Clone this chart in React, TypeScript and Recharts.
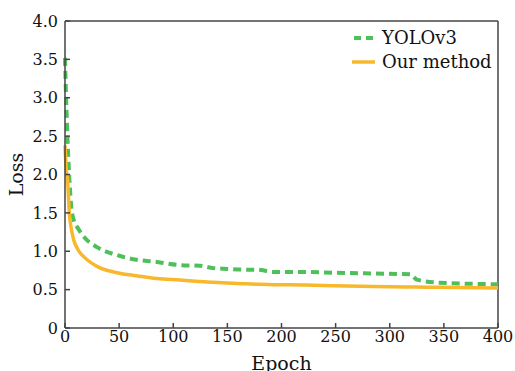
import React from 'react'
import { LineChart, Line, XAxis, YAxis, ReferenceLine } from 'recharts'

// epoch samples and loss values
const epochs = [0, 1, 2.5, 4, 6, 8, 12, 18, 30, 48, 66, 85, 106, 125, 137, 150, 168, 178, 192, 223, 248, 285, 319, 325, 346, 400]
const yolov3 = [3.52, 3.0, 2.4, 1.95, 1.55, 1.41, 1.3, 1.18, 1.05, 0.95, 0.89, 0.86, 0.82, 0.81, 0.78, 0.77, 0.76, 0.76, 0.73, 0.73, 0.72, 0.71, 0.7, 0.63, 0.59, 0.57]
const ourMethod = [2.38, 2.1, 1.9, 1.5, 1.28, 1.15, 1.02, 0.92, 0.8, 0.72, 0.68, 0.645, 0.625, 0.605, 0.595, 0.585, 0.575, 0.57, 0.565, 0.56, 0.55, 0.54, 0.535, 0.533, 0.53, 0.52]

const xTicks = [0, 50, 100, 150, 200, 250, 300, 350, 400]
const yTicks = [0, 0.5, 1, 1.5, 2, 2.5, 3, 3.5, 4]

const chartData = epochs.map((e, i) => ({ epoch: e, yolo: yolov3[i], ours: ourMethod[i] }))

const GREEN = '#4fbf5a'
const ORANGE = '#f7b82c'
const AXIS = '#444'
const FONT = '"DejaVu Serif", serif'

const LegendBox = () => (
	<div style={{ position: 'absolute', left: 352, top: 26, fontFamily: FONT, fontSize: 18, color: '#111', lineHeight: '24px' }}>
		<div style={{ display: 'flex', alignItems: 'center' }}>
			<svg width={30} height={10}>
				<line x1={2} y1={5} x2={22} y2={5} stroke={GREEN} strokeWidth={4} strokeDasharray='7 5' />
			</svg>
			<span>YOLOv3</span>
		</div>
		<div style={{ display: 'flex', alignItems: 'center' }}>
			<svg width={30} height={10}>
				<line x1={0} y1={5} x2={23} y2={5} stroke={ORANGE} strokeWidth={3.5} />
			</svg>
			<span>Our method</span>
		</div>
	</div>
)

const App = () => {
	const tickStyle = { fontSize: 16, fill: '#111', fontFamily: FONT }
	return (
		<div style={{ position: 'absolute', left: 0, top: 0, width: 515, height: 371, background: '#fff' }}>
			<LineChart width={515} height={371} data={chartData} margin={{ top: 21, right: 17, bottom: 0, left: 0 }}>
				<XAxis
					type='number'
					dataKey='epoch'
					domain={[0, 400]}
					ticks={xTicks}
					interval={0}
					height={43}
					stroke={AXIS}
					strokeWidth={1.5}
					tickSize={-5}
					tickMargin={8}
					tick={tickStyle}
					label={{ value: 'Epoch', position: 'insideBottom', offset: 1, style: { fontSize: 19, fill: '#111', fontFamily: FONT } }}
				/>
				<YAxis
					type='number'
					domain={[0, 4]}
					ticks={yTicks}
					interval={0}
					width={65}
					stroke={AXIS}
					strokeWidth={1.5}
					tickSize={-5}
					tickMargin={12}
					tick={tickStyle}
					tickFormatter={(v: number) => (v === 0 ? '0' : v.toFixed(1))}
					label={{ value: 'Loss', angle: -90, position: 'insideLeft', offset: 16, style: { fontSize: 19, fill: '#111', fontFamily: FONT, textAnchor: 'middle' } }}
				/>
				<ReferenceLine y={4} stroke={AXIS} strokeWidth={1.5} />
				<ReferenceLine x={400} stroke={AXIS} strokeWidth={1.5} />
				<Line
					type='monotone'
					dataKey='yolo'
					name='YOLOv3'
					stroke={GREEN}
					strokeWidth={4}
					strokeDasharray='8 5'
					dot={false}
					isAnimationActive={false}
				/>
				<Line
					type='monotone'
					dataKey='ours'
					name='Our method'
					stroke={ORANGE}
					strokeWidth={3.5}
					dot={false}
					isAnimationActive={false}
				/>
			</LineChart>
			<LegendBox />
		</div>
	)
}

export default App
